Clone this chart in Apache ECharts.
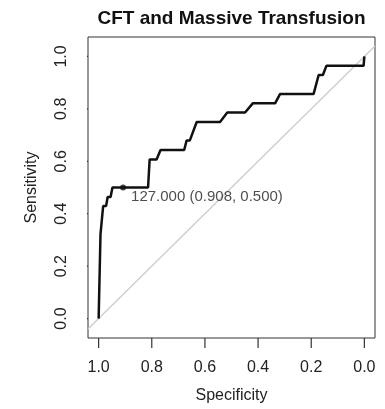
<!DOCTYPE html>
<html>
<head>
<meta charset="utf-8">
<script src="https://cdn.jsdelivr.net/npm/echarts@6/dist/echarts.min.js"></script>
<style>html,body{margin:0;padding:0;background:#fff}#c{width:385px;height:409px}</style>
</head>
<body>
<div id="c"></div>
<script>
const titleText = 'CFT and Massive Transfusion';
const xName = 'Specificity';
const yName = 'Sensitivity';
const tickValues = [0, 0.2, 0.4, 0.6, 0.8, 1.0];
const specificity = [1.0, 0.993, 0.983, 0.972, 0.966, 0.955, 0.948, 0.814, 0.808, 0.782, 0.767, 0.678, 0.669, 0.657, 0.631, 0.543, 0.516, 0.449, 0.42, 0.336, 0.317, 0.191, 0.172, 0.156, 0.143, 0.003, 0.0];
const sensitivity = [0.0, 0.321, 0.429, 0.429, 0.464, 0.464, 0.5, 0.5, 0.607, 0.607, 0.643, 0.643, 0.679, 0.679, 0.75, 0.75, 0.786, 0.786, 0.821, 0.821, 0.857, 0.857, 0.929, 0.929, 0.964, 0.964, 1.0];
const diagSpec = [1.04, -0.04];
const diagSens = [-0.04, 1.04];
const bestSpec = 0.908;
const bestSens = 0.5;
const bestThreshold = '127.000';

const X_MIN = -0.04, X_MAX = 1.04, Y_MIN = -0.074, Y_MAX = 1.074;
const X_TICK = 0.0376, Y_TICK = 0.0378;
const font = 'Liberation Sans, Arial, sans-serif';
const chart = echarts.init(document.getElementById('c'), null, {renderer: 'canvas'});

const xTickData = [];
tickValues.forEach(v => { xTickData.push([v, Y_MIN], [v, Y_MIN - Y_TICK], '-'); });
const yTickData = [];
tickValues.forEach(v => { yTickData.push([X_MAX, v], [X_MAX + X_TICK, v], '-'); });

chart.setOption({
  animation: false,
  backgroundColor: '#fff',
  title: {show: false},
  graphic: {elements: [{
    type: 'text', x: 231.5, y: 19,
    style: {text: titleText, align: 'center', verticalAlign: 'middle', fill: '#111', font: 'bold 19px ' + font}
  }]},
  grid: {left: 88, right: 10, top: 37, bottom: 68, show: true, borderColor: '#333', borderWidth: 1, containLabel: false},
  xAxis: {
    type: 'value', min: X_MIN, max: X_MAX, inverse: true,
    name: xName, nameLocation: 'middle', nameGap: 50,
    nameTextStyle: {fontFamily: font, fontSize: 16, color: '#222'},
    axisLine: {show: false, onZero: false}, splitLine: {show: false},
    axisTick: {show: false},
    axisLabel: {customValues: tickValues, margin: 22, fontFamily: font, fontSize: 16, color: '#222', formatter: v => v.toFixed(1)}
  },
  yAxis: {
    type: 'value', min: Y_MIN, max: Y_MAX,
    name: yName, nameLocation: 'middle', nameGap: 48, nameRotate: 90,
    nameTextStyle: {fontFamily: font, fontSize: 16, color: '#222'},
    axisLine: {show: false, onZero: false}, splitLine: {show: false},
    axisTick: {show: false},
    axisLabel: {customValues: tickValues, rotate: 90, margin: 18, fontFamily: font, fontSize: 16, color: '#222', formatter: v => v.toFixed(1)}
  },
  series: [
    {
      type: 'line', data: diagSpec.map((s, i) => [s, diagSens[i]]),
      symbol: 'none', lineStyle: {color: '#cfcfcf', width: 1.5}, silent: true, z: 1
    },
    {
      type: 'line', data: specificity.map((s, i) => [s, sensitivity[i]]),
      symbol: 'none', lineStyle: {color: '#111', width: 2.5}, z: 3
    },
    {
      type: 'scatter', data: [[bestSpec, bestSens]], symbol: 'circle', symbolSize: 6,
      itemStyle: {color: '#111'}, z: 4,
      label: {
        show: true, position: 'right', distance: 5, offset: [0, 9],
        fontFamily: font, fontSize: 15, color: '#222',
        formatter: () => bestThreshold + ' (' + bestSpec.toFixed(3) + ', ' + bestSens.toFixed(3) + ')'
      }
    },
    {
      type: 'line', data: xTickData, clip: false, connectNulls: false, symbol: 'none', silent: true,
      lineStyle: {color: '#333', width: 1.2}, z: 6
    },
    {
      type: 'line', data: yTickData, clip: false, connectNulls: false, symbol: 'none', silent: true,
      lineStyle: {color: '#333', width: 1.2}, z: 6
    }
  ]
});
</script>
</body>
</html>
